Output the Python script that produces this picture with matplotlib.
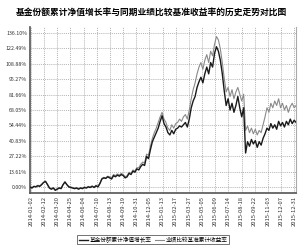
import matplotlib
matplotlib.use("Agg")
import matplotlib.pyplot as plt
import numpy as np
from matplotlib.lines import Line2D

plt.rcParams['font.family'] = ['Noto Sans CJK SC', 'DejaVu Sans']

title = "基金份额累计净值增长率与同期业绩比较基准收益率的历史走势对比图"
fund_label = "基金份额累计净值增长率"
bench_label = "业绩比较基准累计收益率"

fund = [0, -1, 0.5, 0, 1, 0.5, 2, 4, 5, 2, -1, -2, -1, -3, -2, -1, -1.5, 2, 4.5, 2,
        0, -0.5, -1, -1.5, -1, -2, -1, -1.5, -0.5, -1, 0, -0.5, 0.5, -0.5, 1, 0, 3, 7, 8, 7.5,
        9, 8, 7, 10, 9, 10.5, 9.5, 11, 10, 8, 9, 12, 11, 14, 13, 16, 15, 18, 20, 19,
        27, 25, 33, 40, 44, 48, 52, 58, 63, 56, 53, 48, 46, 50, 47, 51, 52, 54, 53, 55,
        57, 53, 60, 70, 76, 80, 88, 93, 97, 92, 100, 106, 100, 110, 106, 118, 124, 120, 112, 100,
        85, 72, 78, 68, 74, 66, 72, 80, 70, 62, 70, 30, 40, 36, 42, 38, 41, 35, 40, 37,
        43, 47, 52, 50, 56, 52, 55, 51, 58, 54, 57, 53, 58, 55, 60, 56, 59, 57]

bench = [0, -0.5, 0.5, 0.5, 1.5, 1, 2.5, 4, 4.5, 2.5, -0.5, -1.5, -0.5, -2.5, -1.5, -0.5, -1, 2, 4, 2,
         0.5, 0, -0.5, -1, -0.5, -1.5, -0.5, -1, 0, -0.5, 0.5, 0, 1, 0, 1.5, 0.5, 3.5, 7.5, 8.5, 8,
         9.5, 9, 8, 11, 10, 11.5, 10.5, 12, 11, 9, 10, 13, 12, 15, 14, 17, 17, 20, 22, 21,
         29, 28, 36, 43, 48, 52, 57, 62, 66, 60, 57, 52, 50, 55, 52, 56, 57, 60, 58, 62,
         64, 60, 68, 78, 86, 92, 100, 106, 110, 104, 112, 117, 110, 120, 116, 126, 133, 130, 122, 110,
         96, 84, 88, 80, 86, 78, 84, 88, 82, 76, 82, 50, 54, 48, 52, 47, 51, 46, 50, 48,
         55, 62, 70, 66, 74, 70, 76, 72, 78, 70, 74, 68, 72, 66, 71, 74, 70, 72]

tick_labels = ["2014-01-02", "2014-02-12", "2014-03-20", "2014-04-25", "2014-06-04",
               "2014-07-10", "2014-08-13", "2014-09-19", "2014-10-31", "2014-12-05",
               "2015-01-13", "2015-02-17", "2015-03-27", "2015-05-05", "2015-06-09",
               "2015-07-14", "2015-08-18", "2015-09-22", "2015-11-03", "2015-12-07",
               "2015-12-31"]
yticks = [0.00, 13.61, 27.22, 40.83, 54.44, 68.05, 81.66, 95.27, 108.88, 122.49, 136.10]

fig = plt.figure(figsize=(3.0, 2.48), dpi=100)
ax = fig.add_axes([0.1, 0.222, 0.887, 0.669])

n = len(fund)
x = np.arange(n)
ax.plot(x[:len(bench)], bench, color='#8a8a8a', lw=0.8, zorder=3)
ax.plot(x, fund, color='#1a1a1a', lw=1.0, zorder=4)

ax.set_xlim(0, n - 1)
ax.set_ylim(-5.3, 141.4)
ax.set_yticks(yticks)
ax.set_yticklabels([f"{v:.2f}%" for v in yticks], fontsize=3.8, color='#333333')
tpos = np.linspace(0.5, n - 2.0, len(tick_labels))
ax.set_xticks(tpos)
ax.set_xticklabels(tick_labels, rotation=90, fontsize=4.2, color='#333333')
ax.tick_params(length=0, pad=2)
ax.grid(True, color='#9a9a9a', ls=(0, (1.5, 1.5)), lw=0.5)
ax.spines['top'].set_visible(False)
ax.spines['left'].set_color('#555555')
ax.spines['left'].set_linewidth(1.2)
ax.spines['bottom'].set_color('#555555')
ax.spines['bottom'].set_linewidth(1.2)
ax.spines['right'].set_color('#aaaaaa')
ax.spines['right'].set_linewidth(0.8)

fig.text(0.505, 0.952, title, ha='center', va='center', fontsize=6.3, fontweight='bold')

handles = [Line2D([], [], color='#1a1a1a', lw=1.0), Line2D([], [], color='#8a8a8a', lw=0.8)]
leg = fig.legend(handles, [fund_label, bench_label], loc='center', bbox_to_anchor=(0.51, 0.033),
                 ncol=2, fontsize=4.1, frameon=True, fancybox=False, handlelength=1.6,
                 handletextpad=0.3, columnspacing=0.6, borderpad=0.25, edgecolor='#333333')
leg.get_frame().set_linewidth(0.6)

fig.savefig("out.png", dpi=100)
